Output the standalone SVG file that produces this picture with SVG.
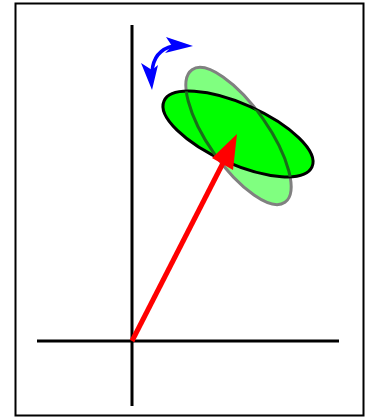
<svg xmlns="http://www.w3.org/2000/svg" width="371" height="417" viewBox="0 0 371 417">
<defs>
<clipPath id="inner"><ellipse cx="238" cy="134" rx="81" ry="30" transform="rotate(24 238 134)"/></clipPath>
</defs>
<style>
.axis{stroke:#000;stroke-width:3;fill:none}
.blue{fill:#0000ff}
</style>
<rect x="15.5" y="3.5" width="348" height="412" fill="#fff" stroke="#000" stroke-width="2"/>
<g id="axes">
<line class="axis" x1="132" y1="25" x2="132" y2="406"/>
<line class="axis" x1="37" y1="341" x2="339" y2="341"/>
</g>
<g id="ellipse-rotated">
<ellipse cx="238.5" cy="136" rx="81" ry="30" transform="rotate(55 238.5 136)" fill="#80ff80" stroke="#808080" stroke-width="3"/>
</g>
<g id="ellipse-main">
<ellipse cx="238" cy="134" rx="81" ry="30" transform="rotate(24 238 134)" fill="#00ff00" stroke="#000" stroke-width="3"/>
<g clip-path="url(#inner)">
<ellipse cx="238.5" cy="136" rx="81" ry="30" transform="rotate(55 238.5 136)" fill="none" stroke="#1a6e1a" stroke-width="3"/>
</g>
</g>
<g id="connectors">
<line x1="132" y1="341" x2="223" y2="163" stroke="#ff0000" stroke-width="5"/>
<path d="M237,134 L233,170 L212,158 z" fill="#ff0000"/>
</g>
<g id="rotation">
<path d="M152,72 C153,58 160,49 173,46" fill="none" stroke="#0000ff" stroke-width="3.5"/>
<path class="blue" d="M152,90 L141,63 L152,70 L158,65 z"/>
<path class="blue" d="M193,46 L166,37 L172,46 L165,53 z"/>
</g>
</svg>
